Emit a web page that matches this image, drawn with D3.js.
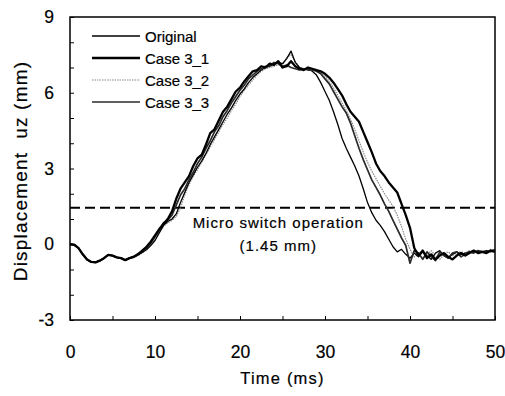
<!DOCTYPE html>
<html>
<head>
<meta charset="utf-8">
<script src="https://cdn.jsdelivr.net/npm/d3@7"></script>
<style>
  body { margin: 0; background: #fff; }
  svg { font-family: "Liberation Sans", Arial, sans-serif; }
  svg text { fill: #000; stroke: #000; stroke-width: 0.2px; }
</style>
</head>
<body>
<script>
// ---- data ----
var time = d3.range(0, 50.001, 0.5);

var common = [0.00, -0.02, -0.15, -0.40, -0.60, -0.70, -0.72, -0.65, -0.55, -0.42,
  -0.45, -0.52, -0.55, -0.63, -0.55];  // 0 .. 7 ms, all cases coincide

var original = common.concat([
  -0.52, -0.42, -0.32, -0.22, -0.05, 0.15, 0.45, 0.75, 0.90, 1.00,
  1.20, 1.65, 2.05, 2.45, 2.75, 3.05, 3.30, 3.60, 3.95, 4.25,
  4.55, 4.85, 5.15, 5.40, 5.70, 5.95, 6.15, 6.40, 6.60, 6.75,
  6.90, 7.00, 7.05, 7.15, 7.20, 7.15, 7.35, 7.65, 7.20, 7.00,
  6.95, 6.95, 6.85, 6.70, 6.40, 6.05, 5.70, 5.25, 4.75, 4.20,
  3.80, 3.45, 3.10, 2.70, 2.20, 1.65, 1.25, 0.95, 0.75, 0.50,
  0.20, -0.10, -0.30, -0.20, -0.40, -0.55, -0.35, -0.50, -0.30, -0.45,
  -0.60, -0.35, -0.25, -0.45, -0.55, -0.40, -0.30, -0.40, -0.35, -0.30,
  -0.32, -0.28, -0.30, -0.25, -0.30, -0.20]);

var case31 = common.concat([
  -0.50, -0.40, -0.25, -0.10, 0.10, 0.35, 0.60, 0.80, 1.00, 1.30,
  1.80, 2.20, 2.45, 2.70, 3.10, 3.40, 3.55, 3.95, 4.40, 4.55,
  4.90, 5.25, 5.45, 5.75, 6.05, 6.20, 6.45, 6.65, 6.85, 6.90,
  7.05, 7.00, 7.15, 7.10, 7.25, 7.00, 7.05, 7.25, 7.05, 6.95,
  6.90, 7.00, 6.95, 6.90, 6.85, 6.75, 6.60, 6.40, 6.15, 5.90,
  5.55, 5.25, 5.05, 4.85, 4.45, 4.05, 3.65, 3.20, 2.90, 2.70,
  2.45, 2.25, 2.05, 1.60, 1.15, 0.65, -0.15, -0.45, -0.25, -0.55,
  -0.40, -0.60, -0.45, -0.35, -0.50, -0.60, -0.45, -0.35, -0.45, -0.35,
  -0.25, -0.35, -0.30, -0.35, -0.25, -0.30]);

var case32 = common.concat([
  -0.50, -0.45, -0.35, -0.20, 0.00, 0.25, 0.50, 0.70, 0.85, 0.95,
  1.10, 1.45, 1.95, 2.35, 2.70, 2.95, 3.25, 3.55, 3.85, 4.15,
  4.45, 4.75, 5.00, 5.30, 5.55, 5.85, 6.10, 6.30, 6.50, 6.70,
  6.85, 6.95, 7.00, 7.05, 7.10, 7.10, 7.40, 7.50, 7.25, 7.00,
  6.95, 6.95, 6.90, 6.90, 6.80, 6.65, 6.45, 6.20, 5.90, 5.60,
  5.30, 4.95, 4.55, 4.10, 3.65, 3.25, 2.90, 2.60, 2.30, 2.00,
  1.75, 1.50, 1.15, 0.70, 0.20, -0.20, -0.50, -0.40, -0.55, -0.45,
  -0.25, -0.45, -0.60, -0.40, -0.30, -0.45, -0.35, -0.30, -0.35, -0.25,
  -0.30, -0.30, -0.25, -0.30, -0.20, -0.25]);

var case33 = common.concat([
  -0.48, -0.38, -0.28, -0.15, 0.05, 0.30, 0.55, 0.85, 0.95, 1.15,
  1.55, 1.95, 2.20, 2.55, 2.85, 3.20, 3.45, 3.80, 4.10, 4.45,
  4.70, 5.05, 5.30, 5.60, 5.85, 6.10, 6.30, 6.55, 6.70, 6.85,
  6.95, 7.05, 7.05, 7.20, 7.15, 7.05, 7.10, 7.00, 6.95, 6.90,
  6.95, 6.90, 6.90, 6.85, 6.75, 6.55, 6.35, 6.05, 5.75, 5.45,
  5.20, 4.80, 4.30, 3.80, 3.35, 2.95, 2.55, 2.25, 1.95, 1.60,
  1.30, 0.95, 0.60, 0.25, -0.05, -0.75, -0.25, -0.35, -0.60, -0.30,
  -0.50, -0.65, -0.30, -0.45, -0.55, -0.35, -0.30, -0.50, -0.40, -0.30,
  -0.35, -0.25, -0.30, -0.30, -0.25, -0.25]);

var seriesNames = ["Original", "Case 3_1", "Case 3_2", "Case 3_3"];
var seriesValues = [original, case31, case32, case33];
var switchLevel = 1.45;
var xTicks = [0, 10, 20, 30, 40, 50];
var yTicks = [-3, 0, 3, 6, 9];

// ---- layout ----
var W = 505, H = 396;
var margin = { top: 17, right: 10, bottom: 76, left: 70 };
var width = W - margin.left - margin.right;
var height = H - margin.top - margin.bottom;

var styles = [
  { color: "#000", w: 1.3, dash: null },
  { color: "#000", w: 2.3, dash: null },
  { color: "#8a8a8a", w: 1.2, dash: "1.5,1" },
  { color: "#2a2a2a", w: 1.7, dash: null }
];

var x = d3.scaleLinear().domain([0, 50]).range([0, width]);
var y = d3.scaleLinear().domain([-3, 9]).range([height, 0]);

var svg = d3.select("body").append("svg")
  .attr("width", W).attr("height", H);

var g = svg.append("g")
  .attr("transform", "translate(" + margin.left + "," + margin.top + ")");

// minor inward ticks
g.append("g")
  .attr("transform", "translate(0," + height + ")")
  .call(d3.axisTop(x).tickValues(d3.range(0, 51, 5)).tickSize(4).tickFormat(""))
  .call(function (s) { s.select(".domain").remove(); });
g.append("g")
  .call(d3.axisRight(y).tickValues(d3.range(-3, 10, 1)).tickSize(4).tickFormat(""))
  .call(function (s) { s.select(".domain").remove(); });

// tick labels
g.append("g")
  .attr("transform", "translate(0," + height + ")")
  .call(d3.axisBottom(x).tickValues(xTicks).tickSize(0).tickPadding(26)
    .tickFormat(function (d) { return String(d); }))
  .call(function (s) {
    s.select(".domain").remove();
    s.selectAll("text").attr("font-size", 17.5)
      .attr("font-family", "Liberation Sans, Arial, sans-serif");
  });
g.append("g")
  .call(d3.axisLeft(y).tickValues(yTicks).tickSize(0).tickPadding(16)
    .tickFormat(function (d) { return String(d); }))
  .call(function (s) {
    s.select(".domain").remove();
    s.selectAll("text").attr("font-size", 17.5)
      .attr("font-family", "Liberation Sans, Arial, sans-serif");
  });

// frame
g.append("rect")
  .attr("width", width).attr("height", height)
  .attr("fill", "none").attr("stroke", "#000").attr("stroke-width", 1.5);

// micro switch level
g.append("line")
  .attr("x1", 0).attr("x2", width)
  .attr("y1", y(switchLevel)).attr("y2", y(switchLevel))
  .attr("stroke", "#000").attr("stroke-width", 2)
  .attr("stroke-dasharray", "10,5");

g.append("text")
  .attr("x", x(24.5)).attr("y", y(switchLevel) + 20)
  .attr("text-anchor", "middle").attr("font-size", 15)
  .attr("letter-spacing", 1)
  .text("Micro switch operation");
g.append("text")
  .attr("x", x(24.5)).attr("y", y(switchLevel) + 43)
  .attr("text-anchor", "middle").attr("font-size", 15)
  .attr("letter-spacing", 1)
  .text("(1.45 mm)");

// curves
var line = d3.line()
  .x(function (d, i) { return x(time[i]); })
  .y(function (d) { return y(d); });

var order = [2, 0, 3, 1];
order.forEach(function (k) {
  g.append("path")
    .datum(seriesValues[k])
    .attr("d", line)
    .attr("fill", "none")
    .attr("stroke", styles[k].color)
    .attr("stroke-width", styles[k].w)
    .attr("stroke-dasharray", styles[k].dash)
    .attr("stroke-linejoin", "round");
});

// legend
var legend = svg.append("g").attr("transform", "translate(92,36)");
seriesNames.forEach(function (name, i) {
  var row = legend.append("g").attr("transform", "translate(0," + (i * 22) + ")");
  row.append("line")
    .attr("x1", 0).attr("x2", 48)
    .attr("stroke", styles[i].color)
    .attr("stroke-width", styles[i].w)
    .attr("stroke-dasharray", styles[i].dash);
  row.append("text")
    .attr("x", 53).attr("y", 5.5)
    .attr("font-size", 15)
    .text(name);
});

// axis titles
svg.append("text")
  .attr("x", margin.left + x(25)).attr("y", 384)
  .attr("text-anchor", "middle").attr("font-size", 16.5)
  .attr("letter-spacing", 1.2)
  .text("Time (ms)");
svg.append("text")
  .attr("transform", "translate(27," + (margin.top + y(2.9)) + ") rotate(-90)")
  .attr("text-anchor", "middle").attr("font-size", 19)
  .attr("letter-spacing", 1.2)
  .style("white-space", "pre")
  .text("Displacement  uz (mm)");
</script>
</body>
</html>
